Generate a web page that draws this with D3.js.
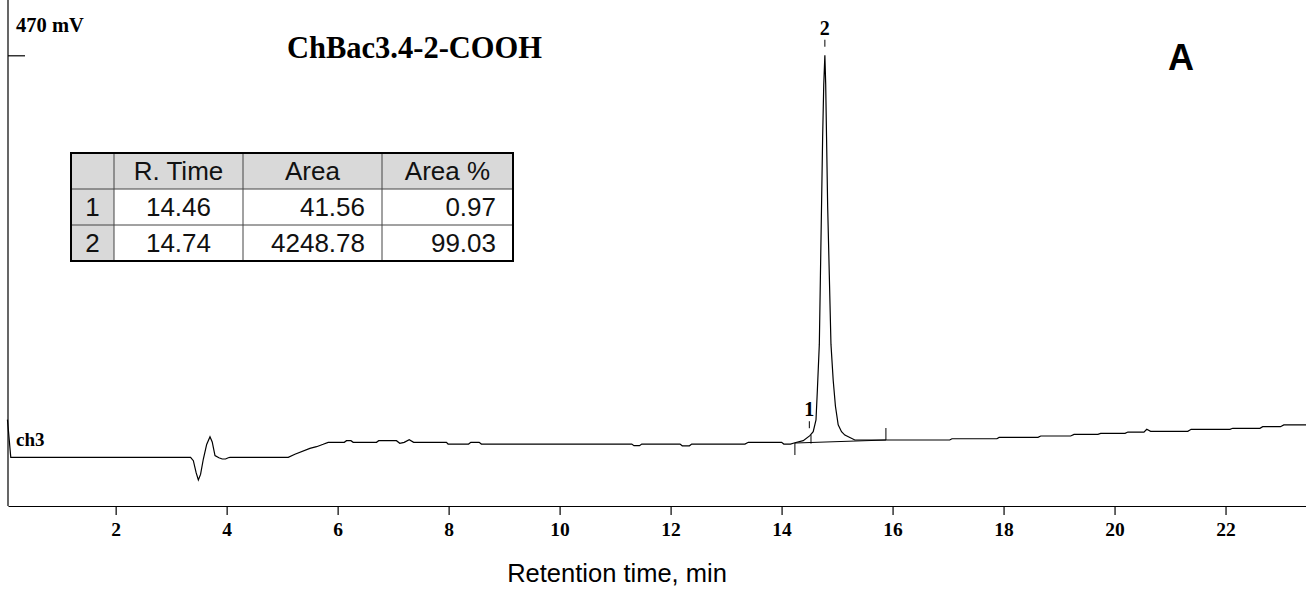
<!DOCTYPE html>
<html>
<head>
<meta charset="utf-8">
<script src="https://cdn.jsdelivr.net/npm/d3@7"></script>
<style>
  html, body { margin: 0; padding: 0; background: #fff; }
  svg { display: block; }
</style>
</head>
<body>
<svg id="chart" width="1306" height="590"></svg>
<script>
// ---------- data ----------
const timeMin = [
  0.05, 0.11, 3.35, 3.40, 3.45, 3.49, 3.53, 3.58, 3.64, 3.70, 3.74, 3.79, 3.86, 3.92, 3.98, 4.03, 4.06,
  5.11, 5.23, 5.50, 5.62, 5.74, 5.83, 6.12, 6.16, 6.24, 6.28, 6.70, 6.74, 7.06, 7.12, 7.20, 7.29, 7.37,
  7.96, 7.99, 8.36, 8.40, 8.55, 8.59, 11.30, 11.34, 11.44, 11.48, 12.17, 12.21, 12.34, 12.38, 13.34, 13.40,
  14.00, 14.04, 14.16, 14.24, 14.39, 14.51, 14.57, 14.62, 14.645, 14.68, 14.70, 14.72, 14.74, 14.76, 14.78,
  14.795, 14.81, 14.83, 14.86, 14.89, 14.93, 14.97, 15.02, 15.08, 15.14, 15.32,
  17.03, 17.07, 17.88, 17.92, 18.62, 18.67, 19.21, 19.27, 19.70, 19.75, 20.19, 20.24, 20.53, 20.58, 20.65,
  21.32, 21.38, 22.08, 22.13, 22.62, 22.67, 22.99, 23.05, 23.45
];
const signalMv = [
  44, 0, 0, -4, -18, -26.5, -20, -2, 15, 24, 18, 2, -0.5, -2, -2, -0.5, 0,
  0, 3.5, 10.5, 12.4, 15.2, 17.5, 17.5, 19.4, 19.4, 17.5, 17.5, 19.4, 19.4, 16.4, 17.5, 20.6, 17.5,
  17.5, 15.5, 15.5, 17.5, 17.5, 15.5, 15.5, 13.6, 13.6, 15.5, 15.5, 13.4, 13.4, 15.5, 15.5, 17.5,
  17.5, 15.5, 15.5, 17, 19.4, 25.3, 30, 43.6, 78.7, 132, 213, 294, 375, 436, 470,
  436, 375, 294, 213, 132, 90, 60, 38, 30, 26, 20.2,
  20.2, 21.7, 21.7, 23.3, 23.3, 24.9, 24.9, 26.8, 26.8, 28.0, 28.0, 29.5, 29.5, 32.7, 30.4,
  30.4, 32.7, 32.7, 33.9, 33.9, 35.8, 35.8, 37.8, 37.8, 37.8
];
const xTicks = [2, 4, 6, 8, 10, 12, 14, 16, 18, 20, 22];
const yTicks = [470];
const yTickLabel = "470 mV";
const chartTitle = "ChBac3.4-2-COOH";
const panelLetter = "A";
const channelLabel = "ch3";
const xAxisTitle = "Retention time, min";

// peak markers
const peakLabels = ["1", "2"];
const peakLabelTime = [14.50, 14.78];
const peakLabelMv = [34, 480];
// integration baseline (drop marks)
const intBaseTime = [14.24, 15.88];
const intBaseMv = [16.7, 20.2];

// results table
const tableHeader = ["", "R. Time", "Area", "Area %"];
const peakIds = ["1", "2"];
const rTimes = ["14.46", "14.74"];
const areas = ["41.56", "4248.78"];
const areaPct = ["0.97", "99.03"];

// ---------- drawing ----------
const svg = d3.select("#chart");
const serif = "'Liberation Serif', 'Times New Roman', serif";
const sans = "'Liberation Sans', Arial, sans-serif";

const x = d3.scaleLinear().domain([0.06, 23.45]).range([8, 1306]);
const y = d3.scaleLinear().domain([0, 470]).range([457.3, 55.3]);
const axisY = 506;

// x axis
const gx = svg.append("g").attr("transform", `translate(0,${axisY})`)
  .call(d3.axisBottom(x).tickValues(xTicks).tickSize(9).tickSizeOuter(0).tickFormat(d3.format("d")));
gx.select(".domain").attr("stroke", "#000").attr("stroke-width", 1.2);
gx.selectAll(".tick line").attr("stroke", "#000").attr("stroke-width", 1.2);
gx.selectAll(".tick text")
  .attr("y", 30).attr("dy", 0)
  .attr("font-family", serif).attr("font-weight", "bold").attr("font-size", 19.5).attr("fill", "#000");

// y axis (line on left with inward tick)
const gy = svg.append("g").attr("transform", `translate(8,0)`)
  .call(d3.axisRight(y).tickValues(yTicks).tickSize(17).tickSizeOuter(0).tickFormat(""));
gy.select(".domain").remove();
gy.selectAll(".tick line").attr("stroke", "#000").attr("stroke-width", 1.2);
svg.append("line").attr("x1", 8).attr("x2", 8).attr("y1", 0).attr("y2", axisY)
  .attr("stroke", "#000").attr("stroke-width", 1.2);
svg.append("text").attr("x", 16).attr("y", 32).text(yTickLabel)
  .attr("font-family", serif).attr("font-weight", "bold").attr("font-size", 20.5);

// trace
const pts = timeMin.map((t, i) => [t, signalMv[i]]);
svg.append("path").datum(pts)
  .attr("d", d3.line().x(d => x(d[0])).y(d => y(d[1])))
  .attr("fill", "none").attr("stroke", "#000").attr("stroke-width", 1.2);

// integration baseline
svg.append("line")
  .attr("x1", x(intBaseTime[0])).attr("y1", y(intBaseMv[0]))
  .attr("x2", x(intBaseTime[1])).attr("y2", y(intBaseMv[1]))
  .attr("stroke", "#000").attr("stroke-width", 1);
// drop marks
svg.append("line").attr("x1", x(intBaseTime[0])).attr("x2", x(intBaseTime[0]))
  .attr("y1", y(intBaseMv[0])).attr("y2", y(intBaseMv[0]) + 12).attr("stroke", "#000").attr("stroke-width", 1);
svg.append("line").attr("x1", x(intBaseTime[1])).attr("x2", x(intBaseTime[1]))
  .attr("y1", y(intBaseMv[1])).attr("y2", y(intBaseMv[1]) - 12).attr("stroke", "#000").attr("stroke-width", 1);
// separation mark between peak 1 and 2
svg.append("line").attr("x1", x(14.53)).attr("x2", x(14.53))
  .attr("y1", y(26)).attr("y2", y(16)).attr("stroke", "#000").attr("stroke-width", 1);

// peak labels + small dashes
peakLabels.forEach((lab, i) => {
  const px = x(peakLabelTime[i]);
  const py = y(peakLabelMv[i]);
  svg.append("text").attr("x", px).attr("y", py - 12).attr("text-anchor", "middle").text(lab)
    .attr("font-family", serif).attr("font-weight", "bold").attr("font-size", 20);
  svg.append("line").attr("x1", px).attr("x2", px).attr("y1", py - 7).attr("y2", py)
    .attr("stroke", "#000").attr("stroke-width", 1);
});

// channel label
svg.append("text").attr("x", 16).attr("y", 446).text(channelLabel)
  .attr("font-family", serif).attr("font-weight", "bold").attr("font-size", 19);

// title & panel letter
svg.append("text").attr("x", 287).attr("y", 58).text(chartTitle)
  .attr("font-family", serif).attr("font-weight", "bold").attr("font-size", 30.5);
svg.append("text").attr("x", 1168).attr("y", 70).text(panelLetter)
  .attr("font-family", sans).attr("font-weight", "bold").attr("font-size", 36);

// x axis title
svg.append("text").attr("x", 617).attr("y", 582).attr("text-anchor", "middle").text(xAxisTitle)
  .attr("font-family", sans).attr("font-size", 25.5);

// table
const colX = [71, 114, 243, 382, 513];
const rowY = [153, 189, 225, 261];
const tg = svg.append("g");
tg.append("rect").attr("x", colX[0]).attr("y", rowY[0]).attr("width", colX[4] - colX[0]).attr("height", rowY[1] - rowY[0]).attr("fill", "#d9d9d9");
tg.append("rect").attr("x", colX[0]).attr("y", rowY[0]).attr("width", colX[1] - colX[0]).attr("height", rowY[3] - rowY[0]).attr("fill", "#d9d9d9");
colX.slice(1, 4).forEach(cx => tg.append("line").attr("x1", cx).attr("x2", cx).attr("y1", rowY[0]).attr("y2", rowY[3]).attr("stroke", "#444").attr("stroke-width", 1));
rowY.slice(1, 3).forEach(ry => tg.append("line").attr("x1", colX[0]).attr("x2", colX[4]).attr("y1", ry).attr("y2", ry).attr("stroke", "#444").attr("stroke-width", 1));
tg.append("rect").attr("x", colX[0]).attr("y", rowY[0]).attr("width", colX[4] - colX[0]).attr("height", rowY[3] - rowY[0])
  .attr("fill", "none").attr("stroke", "#000").attr("stroke-width", 2);

const tfont = 26;
function cell(txt, col, row, align) {
  let tx, anchor;
  if (align === "center") { tx = (colX[col] + colX[col + 1]) / 2; anchor = "middle"; }
  else { tx = colX[col + 1] - 17; anchor = "end"; }
  tg.append("text").attr("x", tx).attr("y", rowY[row] + 27).attr("text-anchor", anchor).text(txt)
    .attr("font-family", sans).attr("font-size", tfont).attr("fill", "#111");
}
tableHeader.forEach((h, i) => { if (h) cell(h, i, 0, "center"); });
peakIds.forEach((id, r) => {
  cell(id, 0, r + 1, "center");
  cell(rTimes[r], 1, r + 1, "center");
  cell(areas[r], 2, r + 1, "right");
  cell(areaPct[r], 3, r + 1, "right");
});
</script>
</body>
</html>
